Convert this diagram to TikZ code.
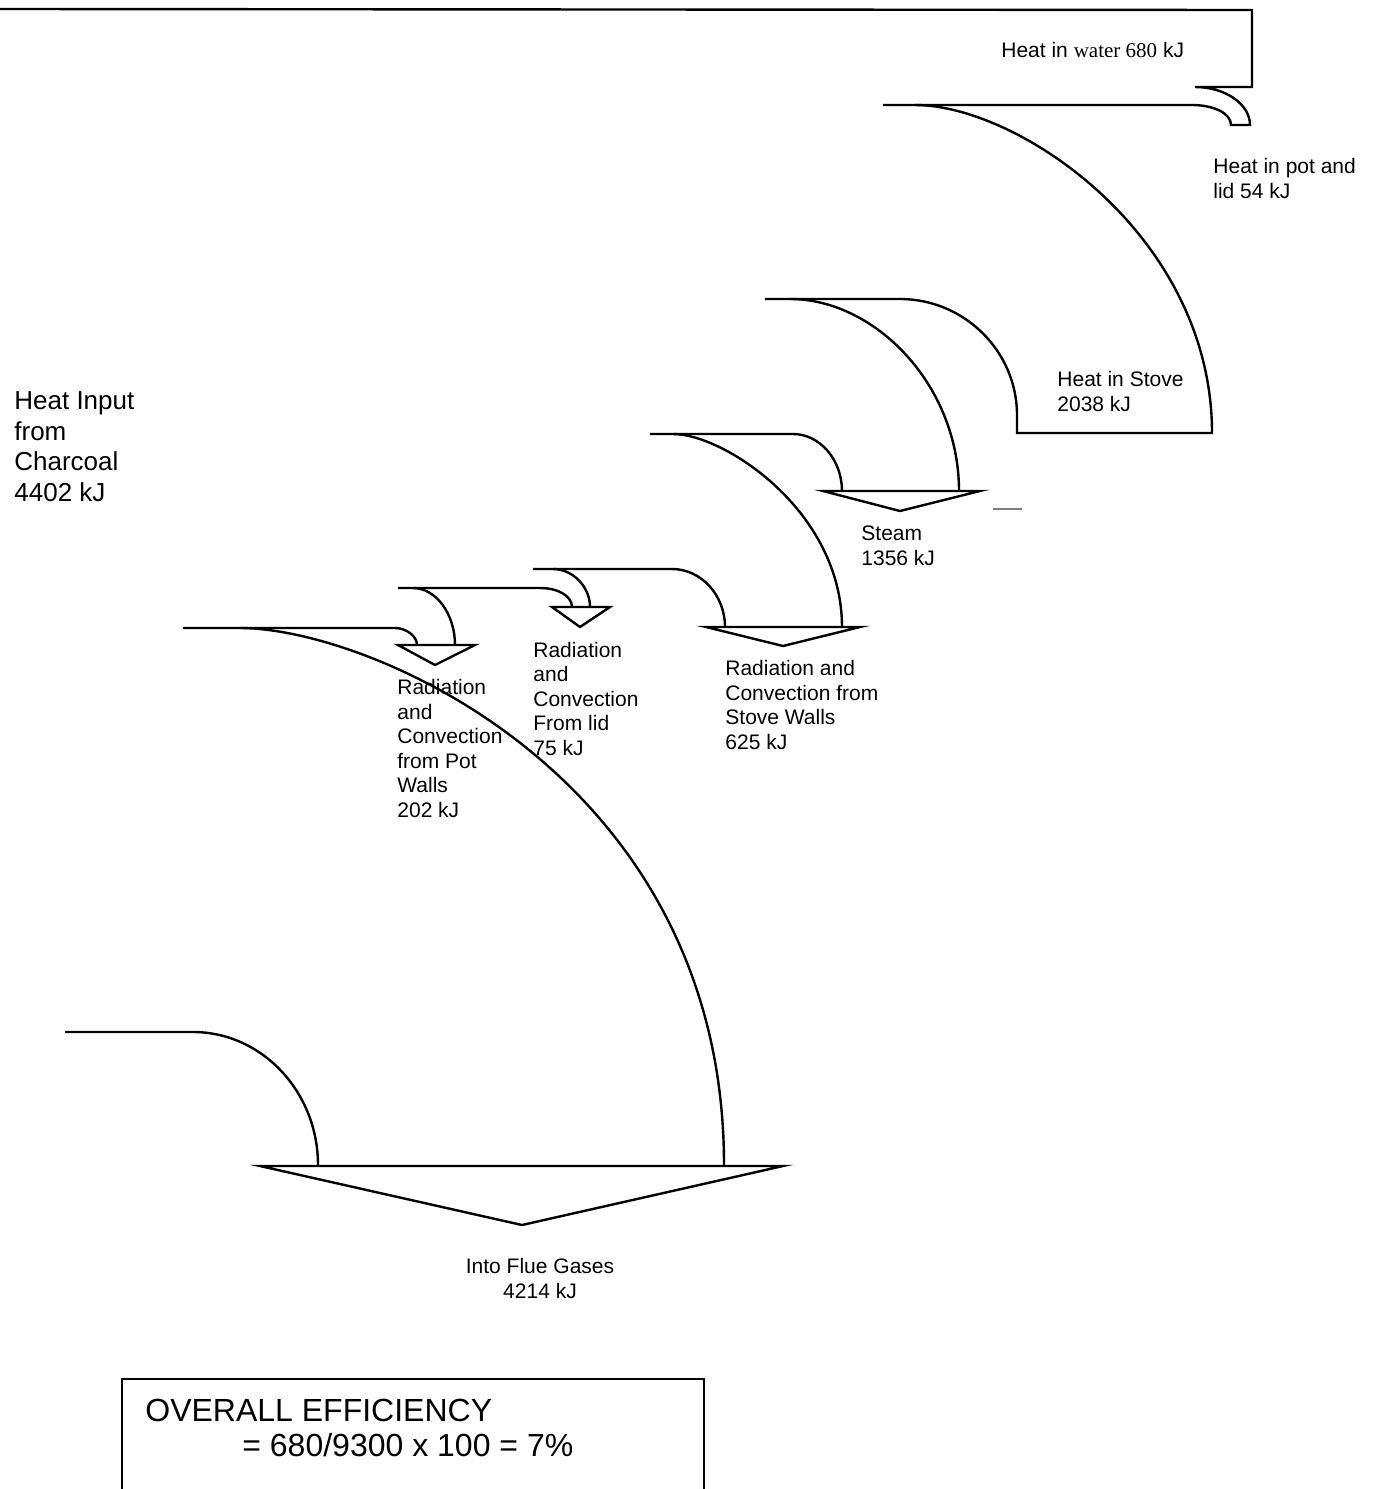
\documentclass[tikz,border=0pt]{standalone}
\usepackage{fontspec}
\setmainfont{Liberation Sans}
\newfontfamily\timesfont{Liberation Serif}
\usetikzlibrary{positioning}
\tikzset{band/.style={line width=1.2pt},
         head/.style={band},
         lbl/.style={anchor=base west, inner sep=0pt, align=left, font=\fontsize{10.5}{12.25}\selectfont}
}

\begin{document}
\begin{tikzpicture}[x=0.5pt,y=-0.5pt]
  \useasboundingbox (0,0) rectangle (1374,1489);
  % water band and the pot/lid loss
  \draw[band] (0,9) -- (1252,10) -- (1252,87) -- (1195,87)
     .. controls (1225,87) and (1250,104) .. (1250,125) -- (1231,125)
     .. controls (1231,113) and (1213,105) .. (1192,105) -- (883,105);
  % stove
  \draw[band] (915,105) .. controls (1019,105) and (1212,236) .. (1212,433) -- (1017,433) -- (1017,415)
     .. controls (1017,351) and (964,299) .. (900,299) -- (765,299);
  % steam
  \draw[band] (790,299) .. controls (875,299) and (959,385) .. (959,491);
  \draw[head] (823,491) -- (980,491) -- (900,511) -- cycle;
  \draw[band] (650,434) -- (793,434) .. controls (820,434) and (842,460) .. (842,491);
  \draw[line width=0.6pt, gray] (993,509) -- (1022,509);
  % stove walls
  \draw[band] (673,434) .. controls (724,434) and (842,511) .. (842,627);
  \draw[head] (706,627) -- (860,627) -- (783,646) -- cycle;
  \draw[band] (533,569) -- (672,569) .. controls (701,569) and (725,595) .. (725,627);
  % lid
  \draw[band] (553,569) .. controls (573,569) and (590,587) .. (590,607);
  \draw[head] (552,607) -- (610,607) -- (580,627) -- cycle;
  \draw[band] (398,588) -- (540,588) .. controls (558,588) and (572,596) .. (572,607);
  % pot walls
  \draw[band] (413,588) .. controls (436,588) and (455,614) .. (455,645);
  \draw[head] (398,645) -- (475,645) -- (435,665) -- cycle;
  \draw[band] (183,628) -- (395,628) .. controls (406,628) and (417,636) .. (417,645);
  % flue gases
  \draw[band] (240,628) .. controls (370,628) and (724,778) .. (724,1165);
  \draw[band] (65,1032) -- (193,1032) .. controls (262,1032) and (318,1092) .. (318,1165);
  \draw[head] (260,1166) -- (783,1166) -- (522,1225) -- cycle;

  % labels sit on the baseline of their last line
  \node[lbl] (water) at (1001,57) {Heat in {\timesfont water 680} kJ};
  \node[lbl] (potlid) at (1213,198) {Heat in pot and\\lid 54 kJ};
  \node[lbl] (stove) at (1057,411) {Heat in Stove\\2038 kJ};
  \node[lbl] (steam) at (861,565) {Steam\\1356 kJ};
  \node[lbl] (walls) at (725,749) {Radiation and\\Convection from\\Stove Walls\\625 kJ};
  \node[lbl] (lid) at (533,755) {Radiation\\and\\Convection\\From lid\\75 kJ};
  \node[lbl] (pot) at (397,817) {Radiation\\and\\Convection\\from Pot\\Walls\\202 kJ};
  \node[lbl, font=\fontsize{13}{15.25}\selectfont] (input) at (14,501) {Heat Input\\from\\Charcoal\\4402 kJ};
  \node[lbl, anchor=base, align=center] (flue) at (540,1298) {Into Flue Gases\\4214 kJ};

  % efficiency box, cut by the page edge
  \draw[band] (122,1495) -- (122,1379) -- (704,1379) -- (704,1495);
  \node[lbl, font=\fontsize{16}{17.5}\selectfont] (eff) at (145,1456) {OVERALL EFFICIENCY\\\hspace*{48.5pt}= 680/9300 x 100 = 7\%};
\end{tikzpicture}
\end{document}
